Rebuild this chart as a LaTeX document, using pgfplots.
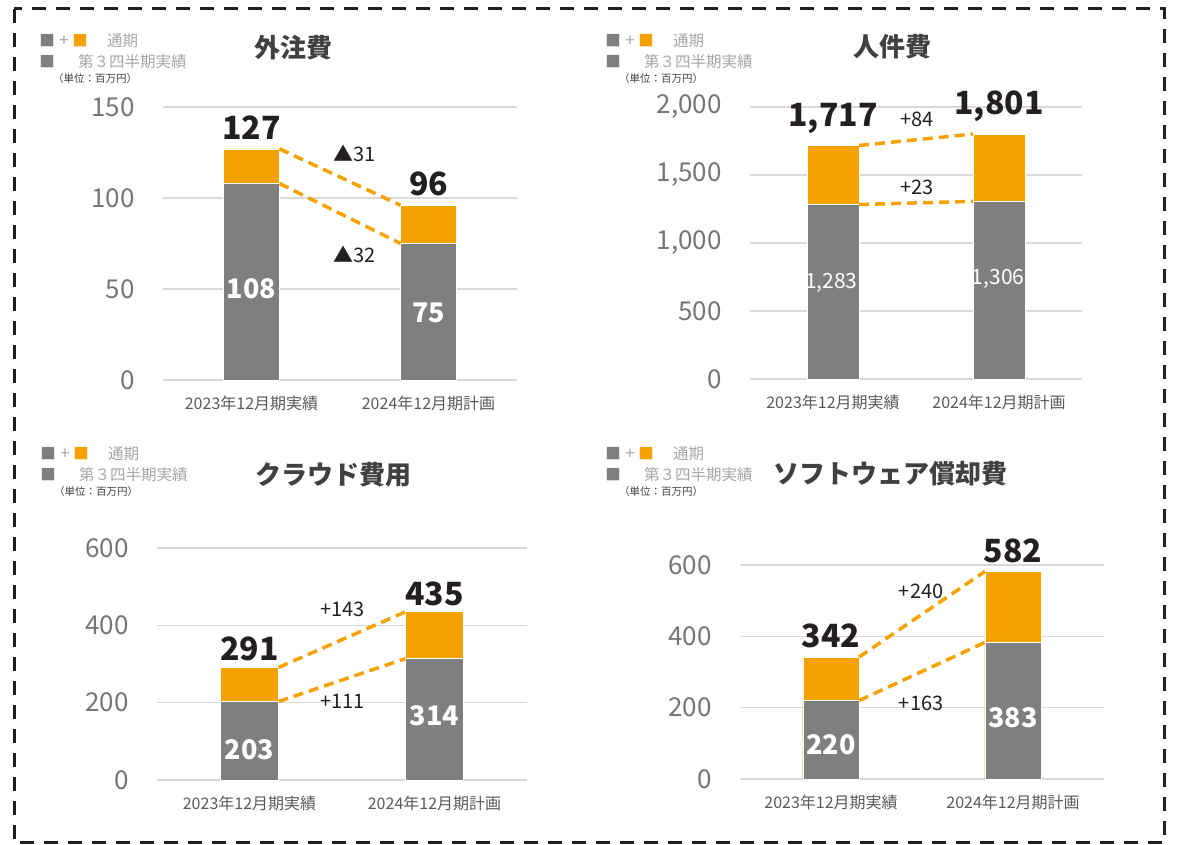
\documentclass[border=0pt]{standalone}
\usepackage{fontspec}
\setmainfont{Noto Sans CJK JP}
\usepackage{pgfplots}
\pgfplotsset{compat=1.18}

\definecolor{bargray}{RGB}{127,127,127}
\definecolor{barorange}{RGB}{245,162,0}
\definecolor{gridgray}{RGB}{217,217,217}
\definecolor{tickgray}{RGB}{118,118,118}
\definecolor{catgray}{RGB}{89,89,89}
\definecolor{leggray}{RGB}{166,166,166}
\definecolor{titlegray}{RGB}{64,64,64}
\definecolor{ink}{RGB}{35,31,32}

\pgfplotsset{
  panel/.style={
    scale only axis, anchor=south west,
    xmin=-0.5, xmax=1.5, ymin=0,
    xtick={0,1}, xticklabels={2023年12月期実績,2024年12月期計画},
    axis line style={draw=none}, major tick length=0pt,
    ymajorgrids, grid style={gridgray, line width=1.5pt},
    clip=false,
    /pgf/number format/assume math mode=true,
    /pgf/number format/1000 sep={,},
    yticklabel style={font=\fontsize{26}{26}\selectfont, text=tickgray, anchor=east, inner sep=0pt, xshift=-28pt},
    xticklabel style={font=\fontsize{16}{16}\selectfont, text=catgray, anchor=base, inner sep=0pt, yshift=-30pt},
  },
  upper/.style={ybar, bar shift=0pt, fill=barorange, draw=white, line width=0.6pt},
  lower/.style={ybar, bar shift=0pt, fill=bargray, draw=white, line width=0.6pt},
  link/.style={barorange, line width=3.5pt, dash pattern=on 10pt off 6pt},
}
\tikzset{
  total/.style={anchor=south, inner sep=0pt, font=\fontsize{32}{32}\selectfont\bfseries, text=ink},
  inside/.style={inner sep=0pt, font=\fontsize{27}{27}\selectfont\bfseries, text=white},
  delta/.style={inner sep=0pt, font=\fontsize{20}{20}\selectfont, text=ink},
  ttl/.style={inner sep=0pt, font=\fontsize{26}{26}\selectfont\bfseries, text=titlegray},
  sq/.style={inner sep=0pt, font=\fontsize{15.5}{15.5}\selectfont},
}

% legend block: #1 = left of the first square, #2 = centre of row 1 (pixels from top)
\newcommand\legendblock[2]{%
  \node[sq, text=bargray] at ({(#1+5)*1pt},{(845-#2)*1pt}) {■};
  \node[text=leggray, inner sep=0pt, font=\fontsize{17}{17}\selectfont] at ({(#1+22)*1pt},{(845-#2)*1pt}) {+};
  \node[sq, text=barorange] at ({(#1+38)*1pt},{(845-#2)*1pt}) {■};
  \node[text=leggray, anchor=west, inner sep=0pt, font=\fontsize{15.5}{15.5}\selectfont] at ({(#1+65)*1pt},{(845-#2)*1pt}) {通期};
  \node[sq, text=bargray] at ({(#1+5)*1pt},{(845-#2-21)*1pt}) {■};
  \node[text=leggray, anchor=west, inner sep=0pt, font=\fontsize{15.5}{15.5}\selectfont] at ({(#1+36)*1pt},{(845-#2-21)*1pt}) {第３四半期実績};
  \node[text=titlegray, anchor=west, inner sep=0pt, font=\fontsize{10.5}{10.5}\selectfont] at ({(#1+11)*1pt},{(845-#2-38)*1pt}) {（単位：百万円）};
}

\begin{document}
\begin{tikzpicture}
\useasboundingbox (0pt,0pt) rectangle (1177pt,845pt);
\draw[ink, line width=3pt, dash pattern=on 14pt off 10pt] (14pt,836pt) rectangle (1164pt,2pt);

% ---- 外注費
\legendblock{42}{41}
\node[ttl] at (293pt,797pt) {外注費};
\begin{axis}[panel, at={(163pt,465pt)}, width=354pt, height=273pt,
  ymax=150, ytick={0,50,100,150}]
\addplot[upper, bar width=0.316] coordinates {(0,127) (1,96)};
\addplot[lower, bar width=0.316] coordinates {(0,108) (1,75)};
\addplot[link] coordinates {(0.158,127) (0.842,96)};
\addplot[link] coordinates {(0.158,108) (0.842,75)};
\node[total, yshift=9pt] at (axis cs:0,127) {127};
\node[total, yshift=9pt] at (axis cs:1,96) {96};
\node[inside] at (axis cs:0,50) {108};
\node[inside] at (axis cs:1,37) {75};
\node[delta] at (axis cs:0.582,124.7) {▲31};
\node[delta] at (axis cs:0.582,69.2) {▲32};
\end{axis}

% ---- 人件費
\legendblock{608}{41}
\node[ttl] at (892pt,798pt) {人件費};
\begin{axis}[panel, at={(750pt,466pt)}, width=332pt, height=272pt,
  ymax=2000, ytick={0,500,1000,1500,2000}]
\addplot[upper, bar width=0.313] coordinates {(0,1717) (1,1801)};
\addplot[lower, bar width=0.313] coordinates {(0,1283) (1,1306)};
\addplot[link] coordinates {(0.157,1717) (0.843,1801)};
\addplot[link] coordinates {(0.157,1283) (0.843,1306)};
\node[total, yshift=11.5pt] at (axis cs:0,1717) {1,717};
\node[total, yshift=12.5pt] at (axis cs:1,1801) {1,801};
\node[inside, font=\fontsize{21}{21}\selectfont] at (axis cs:-0.01,706) {1,283};
\node[inside, font=\fontsize{21}{21}\selectfont] at (axis cs:-0.005+1,735) {1,306};
\node[delta] at (axis cs:0.506,1912) {+84};
\node[delta] at (axis cs:0.506,1412) {+23};
\end{axis}

% ---- クラウド費用
\legendblock{43}{454}
\node[ttl] at (333pt,370pt) {クラウド費用};
\begin{axis}[panel, at={(157pt,65pt)}, width=370pt, height=232pt,
  ymax=600, ytick={0,200,400,600}]
\addplot[upper, bar width=0.314] coordinates {(0,291) (1,435)};
\addplot[lower, bar width=0.314] coordinates {(0,203) (1,314)};
\addplot[link] coordinates {(0.157,291) (0.843,435)};
\addplot[link] coordinates {(0.157,203) (0.843,314)};
\node[total, yshift=6pt] at (axis cs:0,291) {291};
\node[total, yshift=6pt] at (axis cs:1,435) {435};
\node[inside] at (axis cs:0,77.6) {203};
\node[inside] at (axis cs:1,165.5) {314};
\node[delta] at (axis cs:0.503,442) {+143};
\node[delta] at (axis cs:0.503,204) {+111};
\end{axis}

% ---- ソフトウェア償却費
\legendblock{608}{454}
\node[ttl] at (890pt,371pt) {ソフトウェア償却費};
\begin{axis}[panel, at={(740pt,66pt)}, width=364pt, height=214pt,
  ymax=600, ytick={0,200,400,600}]
\addplot[upper, bar width=0.308] coordinates {(0,342) (1,582)};
\addplot[lower, bar width=0.308] coordinates {(0,220) (1,383)};
\addplot[link] coordinates {(0.154,342) (0.846,582)};
\addplot[link] coordinates {(0.154,220) (0.846,383)};
\node[total, yshift=8.5pt] at (axis cs:0,342) {342};
\node[total, yshift=8pt] at (axis cs:1,582) {582};
\node[inside] at (axis cs:0,95) {220};
\node[inside] at (axis cs:1,171) {383};
\node[delta] at (axis cs:0.495,527) {+240};
\node[delta] at (axis cs:0.495,213) {+163};
\end{axis}
\end{tikzpicture}
\end{document}
